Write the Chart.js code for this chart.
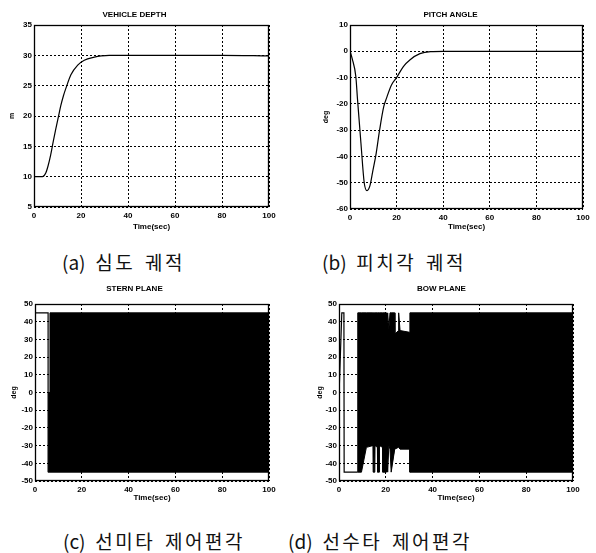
<!DOCTYPE html>
<html>
<head>
<meta charset="utf-8">
<script src="https://cdn.jsdelivr.net/npm/chart.js@4.4.0/dist/chart.umd.min.js"></script>
<style>
body{margin:0;background:#fff;width:596px;height:553px;position:relative;overflow:hidden;}
.panel{position:absolute;}
.cap{position:absolute;font-family:"Noto Sans CJK KR";font-size:19px;color:#111;white-space:nowrap;letter-spacing:2.5px;word-spacing:3px;line-height:1;}
.cap span{letter-spacing:0;}
</style>
</head>
<body>
<div class="panel" style="left:0;top:0"><canvas id="c-depth" width="280" height="240"></canvas></div>
<div class="panel" style="left:318px;top:0"><canvas id="c-pitch" width="278" height="240"></canvas></div>
<div class="panel" style="left:0;top:280px"><canvas id="c-stern" width="280" height="231"></canvas></div>
<div class="panel" style="left:310px;top:280px"><canvas id="c-bow" width="286" height="231"></canvas></div>
<div class="cap" style="left:62px;top:252px"><span>(a)</span> 심도 궤적</div>
<div class="cap" style="left:322px;top:252px"><span>(b)</span> 피치각 궤적</div>
<div class="cap" style="left:63px;top:531px"><span>(c)</span> 선미타 제어편각</div>
<div class="cap" style="left:288px;top:531px"><span>(d)</span> 선수타 제어편각</div>
<script>
// tick labels
const timeTicks = [0, 20, 40, 60, 80, 100];
const depthTicks = [5, 10, 15, 20, 25, 30, 35];
const pitchTicks = [-60, -50, -40, -30, -20, -10, 0, 10];
const planeTicks = [-50, -40, -30, -20, -10, 0, 10, 20, 30, 40, 50];

// (a) vehicle depth
const depthTime = [0, 2, 3.6, 5, 6, 7.1, 8.2, 9.3, 10.4, 11.4, 12.5, 13.6, 15.7, 18.6, 21.4, 25.7, 28.6, 32, 40, 60, 80, 100];
const depthM = [10, 10, 10, 10.6, 11.8, 13.6, 15.8, 17.9, 19.9, 21.7, 23.3, 24.6, 26.8, 28.4, 29.2, 29.7, 29.9, 30, 30, 30, 30, 29.9];

// (b) pitch angle
const pitchTime = [0, 1, 2.5, 3.2, 4.7, 6.1, 7.3, 8.6, 9.8, 11.2, 12.7, 14.5, 15.6, 17.8, 20, 22.9, 25.8, 30, 34.6, 40, 60, 80, 100];
const pitchDeg = [0, -3, -9.6, -18, -35, -50, -53, -51, -45.5, -39, -30, -21, -18, -12.8, -10, -5.8, -3.2, -0.9, -0.1, 0, 0, 0, 0];

// (c) stern plane: first switch, then chattering band (upper / lower edge)
const sternTime = [0, 5.6, 5.6];
const sternDeg = [45, 45, -45];
const sternBandTime = [5.6, 6.4, 6.4, 100];
const sternUpper = [0, 0, 45, 45];
const sternLower = [-45, -45, -45, -45];

// (d) bow plane
const bowTime = [0, 1.2, 2.1, 2.2, 8];
const bowDeg = [-2, 45, 45, -45, -45];
const bowBandTime = [8, 8, 9.6, 11.7, 14.5, 14.6, 15.3, 15.4, 16.4, 16.5, 17.2, 17.3, 18.6, 18.7, 20.2, 20.3, 20.8, 21.3, 21.8, 22.3, 23.8, 23.9, 25.4, 25.5, 26.1, 30.2, 30.3, 100];
const bowUpper = [-45, 45, 45, 45, 45, 45, 45, 45, 45, 45, 45, 45, 45, 45, 45, 34, 45, 36, 45, 45, 45, 33, 35, 45, 35, 34, 45, 45];
const bowLower = [-45, -45, -45, -31, -30, -45, -45, -30, -31, -45, -45, -30, -31, -45, -45, -31, -45, -30, -32, -45, -32, -32, -31, -31, -32, -32, -45, -45];

function pts(xs, ys) {
    return xs.map((x, i) => ({x: x, y: ys[i]}));
}

const tickFont = {family: 'Liberation Sans', size: 8, weight: 'bold'};

// MATLAB style box round the plot area
const boxPlugin = {
    id: 'box',
    afterDatasetsDraw(chart) {
        const a = chart.chartArea, ctx = chart.ctx;
        ctx.save();
        ctx.strokeStyle = '#000';
        ctx.lineWidth = 1.3;
        ctx.strokeRect(Math.round(a.left) + 0.5, Math.round(a.top) + 0.5,
            Math.round(a.right - a.left) - 1, Math.round(a.bottom - a.top) - 1);
        ctx.restore();
    }
};

function lineSet(xs, ys, extra) {
    return Object.assign({
        data: pts(xs, ys),
        borderColor: '#000',
        borderWidth: 1.2,
        pointRadius: 0,
        fill: false
    }, extra || {});
}

function grafico(id, titulo, yTitulo, yTicks, datasets, lay) {
    const ctx = document.getElementById(id).getContext('2d');
    const gridOpts = {color: '#000', lineWidth: 1, drawTicks: false};
    return new Chart(ctx, {
        type: 'line',
        data: {datasets: datasets},
        plugins: [boxPlugin],
        options: {
            responsive: false,
            animation: false,
            layout: {padding: {left: 0, right: lay.padRight, top: 0, bottom: 0}},
            plugins: {
                legend: {display: false},
                tooltip: {enabled: false},
                title: {
                    display: true,
                    text: titulo,
                    color: '#000',
                    font: {family: 'Liberation Sans', size: 8, weight: 'bold'},
                    padding: {top: lay.titleTop, bottom: lay.titleBottom}
                }
            },
            scales: {
                x: {
                    type: 'linear',
                    min: 0,
                    max: 100,
                    afterBuildTicks: s => { s.ticks = timeTicks.map(v => ({value: v})); },
                    afterFit: s => { s.height = lay.xHeight; },
                    grid: gridOpts,
                    border: {display: false, dash: [2, 2]},
                    ticks: {color: '#000', font: tickFont, padding: 4, maxRotation: 0},
                    title: {display: true, text: 'Time(sec)', color: '#000', font: tickFont, padding: {top: 0, bottom: 8}}
                },
                y: {
                    type: 'linear',
                    min: yTicks[0],
                    max: yTicks[yTicks.length - 1],
                    afterBuildTicks: s => { s.ticks = yTicks.map(v => ({value: v})); },
                    afterFit: s => { s.width = lay.yWidth; },
                    grid: gridOpts,
                    border: {display: false, dash: [2, 2]},
                    ticks: {color: '#000', font: tickFont, padding: 2},
                    title: {display: true, text: yTitulo, color: '#000', font: {family: 'Liberation Sans', size: 7, weight: 'bold'}, padding: {top: lay.yTitlePad, bottom: 0}}
                }
            }
        }
    });
}

grafico('c-depth', 'VEHICLE DEPTH', 'm', depthTicks,
    [lineSet(depthTime, depthM, {cubicInterpolationMode: 'monotone'})],
    {padRight: 11, titleTop: 10, titleBottom: 5.4, xHeight: 33, yWidth: 34, yTitlePad: 8});

grafico('c-pitch', 'PITCH ANGLE', 'deg', pitchTicks,
    [lineSet(pitchTime, pitchDeg, {cubicInterpolationMode: 'monotone'})],
    {padRight: 13, titleTop: 10, titleBottom: 5.4, xHeight: 31, yWidth: 32, yTitlePad: 4});

grafico('c-stern', 'STERN PLANE', 'deg', planeTicks, [
    lineSet(sternTime, sternDeg),
    lineSet(sternBandTime, sternUpper, {borderWidth: 1, fill: '+1', backgroundColor: '#000'}),
    lineSet(sternBandTime, sternLower, {borderWidth: 1})
], {padRight: 11, titleTop: 4.2, titleBottom: 10.2, xHeight: 30, yWidth: 35, yTitlePad: 10});

grafico('c-bow', 'BOW PLANE', 'deg', planeTicks, [
    lineSet(bowTime, bowDeg),
    lineSet(bowBandTime, bowUpper, {borderWidth: 1, fill: '+1', backgroundColor: '#000'}),
    lineSet(bowBandTime, bowLower, {borderWidth: 1})
], {padRight: 23, titleTop: 4.2, titleBottom: 10.2, xHeight: 30, yWidth: 29, yTitlePad: 6});
</script>
</body>
</html>
